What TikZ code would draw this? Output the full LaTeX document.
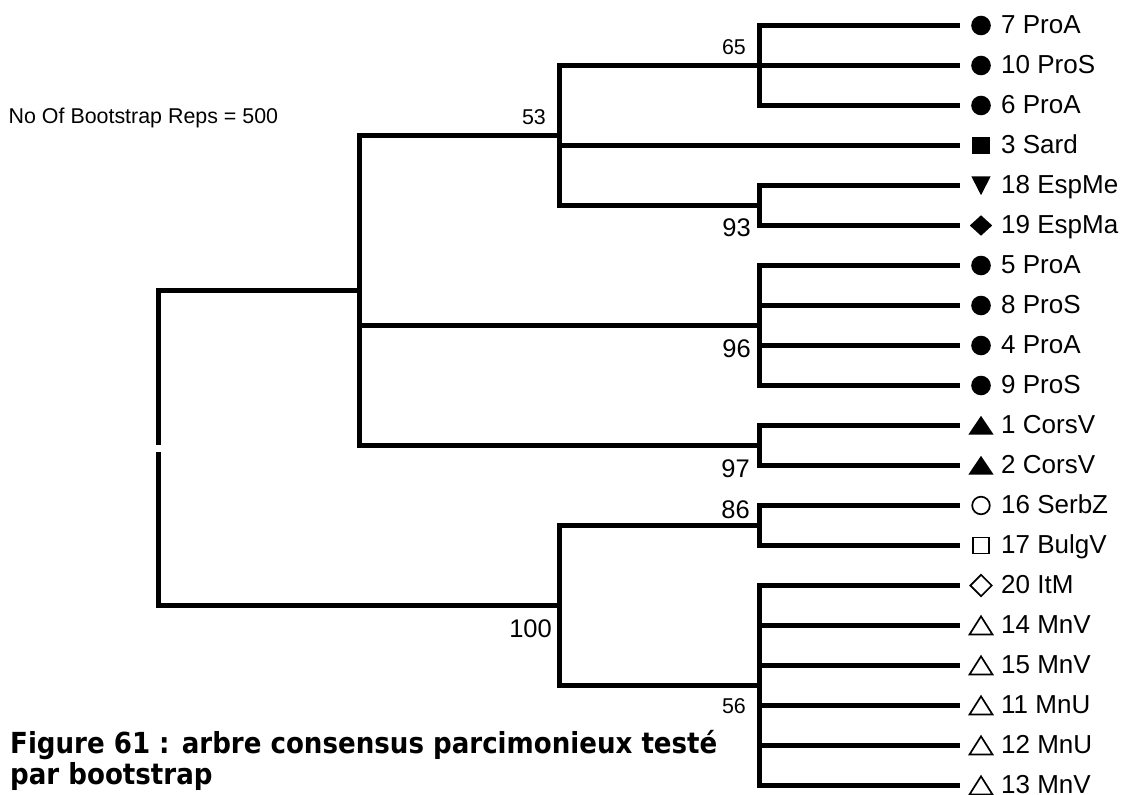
\documentclass[tikz,border=0pt]{standalone}
\usepackage{fontspec}
\setmainfont{Liberation Sans}
\newfontfamily\capfont{DejaVu Sans Condensed}
\begin{document}
\begin{tikzpicture}[x=1pt,y=-1pt,
  branch/.style={line width=5pt, line join=miter},
  leaflab/.style={font=\fontsize{26}{30}\selectfont, anchor=base west, inner sep=0pt},
  bsbig/.style={font=\fontsize{25.5}{30}\selectfont, anchor=base east, inner sep=0pt},
  bssmall/.style={font=\fontsize{21.4}{25}\selectfont, anchor=base east, inner sep=0pt},
  capstyle/.style={font=\capfont\bfseries\fontsize{29}{30}\selectfont, anchor=base west, inner sep=0pt},
  openmark/.style={line width=1.7pt},
  mkcf/.pic={\fill (0,0) circle[radius=9.8pt];},
  mkco/.pic={\draw[openmark] (0,0) circle[radius=8.8pt];},
  mksf/.pic={\fill (-8.7,-8.3) rectangle (8.7,8.3);},
  mkso/.pic={\draw[openmark] (-8,-8) rectangle (8,8);},
  mktu/.pic={\fill (-12.7,9.2) -- (12.7,9.2) -- (0,-9.7) -- cycle;},
  mkto/.pic={\draw[openmark] (-11.5,9) -- (11.5,9) -- (0,-9.2) -- cycle;},
  mktd/.pic={\fill (-9.7,-9.2) -- (9.7,-9.2) -- (0,9.7) -- cycle;},
  mkdf/.pic={\fill (-11.2,0) -- (0,-10.2) -- (11.2,0) -- (0,10.2) -- cycle;},
  mkdo/.pic={\draw[openmark] (-10.7,0) -- (0,-10.7) -- (10.7,0) -- (0,10.7) -- cycle;},
]
\useasboundingbox (0,0) rectangle (1127,795);

% internal nodes of the tree
\coordinate (root) at (158,448);
\coordinate (nA)   at (359,290.5);
\coordinate (n53)  at (559,135.5);
\coordinate (n65)  at (759,65.5);
\coordinate (n93)  at (759,205.5);
\coordinate (n96)  at (759,325.5);
\coordinate (n97)  at (759,445.5);
\coordinate (n100) at (559,605.5);
\coordinate (n86)  at (759,525.5);
\coordinate (n56)  at (759,685.5);

% leaves
\foreach \i in {0,...,19} { \coordinate (l\i) at (960,25.5+40*\i); }

% branches
\draw[branch] ([yshift=3.5pt]root) |- (nA);
\draw[branch] ([yshift=-3.5pt]root) |- (n100);
\foreach \c in {n53,n96,n97} { \draw[branch] (nA) |- (\c); }
\foreach \c in {n65,l3,n93} { \draw[branch] (n53) |- (\c); }
\foreach \c in {l0,l1,l2} { \draw[branch] (n65) |- (\c); }
\foreach \c in {l4,l5} { \draw[branch] (n93) |- (\c); }
\foreach \c in {l6,l7,l8,l9} { \draw[branch] (n96) |- (\c); }
\foreach \c in {l10,l11} { \draw[branch] (n97) |- (\c); }
\foreach \c in {n86,n56} { \draw[branch] (n100) |- (\c); }
\foreach \c in {l12,l13} { \draw[branch] (n86) |- (\c); }
\foreach \c in {l14,l15,l16,l17,l18,l19} { \draw[branch] (n56) |- (\c); }

% leaf symbols and labels
\foreach \i/\m/\t in {0/mkcf/7 ProA, 1/mkcf/10 ProS, 2/mkcf/6 ProA, 3/mksf/3 Sard,
  4/mktd/18 EspMe, 5/mkdf/19 EspMa, 6/mkcf/5 ProA, 7/mkcf/8 ProS, 8/mkcf/4 ProA,
  9/mkcf/9 ProS, 10/mktu/1 CorsV, 11/mktu/2 CorsV, 12/mkco/16 SerbZ, 13/mkso/17 BulgV,
  14/mkdo/20 ItM, 15/mkto/14 MnV, 16/mkto/15 MnV, 17/mkto/11 MnU, 18/mkto/12 MnU,
  19/mkto/13 MnV} {
  \pic at ([xshift=21pt]l\i) {\m};
  \node[leaflab] (t\i) at ([xshift=41pt,yshift=-8.2pt]l\i) {\t};
}

% bootstrap values
\node[bssmall] (b53) at (546,124) {53};
\node[bssmall] (b65) at (746,54) {65};
\node[bsbig] (b93) at (751,236) {93};
\node[bsbig] (b96) at (751,357) {96};
\node[bsbig] (b97) at (750,477) {97};
\node[bsbig] (b86) at (750,518) {86};
\node[bsbig] (b100) at (552,637) {100};
\node[bssmall] (b56) at (746,713) {56};

\node[anchor=base west, inner sep=0pt, font=\fontsize{21.4}{25}\selectfont] (reps) at (8.5,123) {No Of Bootstrap Reps = 500};

\node[capstyle] (cap1) at (10,753.5) {Figure 61 : arbre consensus parcimonieux testé};
\node[capstyle] (cap2) at (10,784) {par bootstrap};
\end{tikzpicture}
\end{document}
